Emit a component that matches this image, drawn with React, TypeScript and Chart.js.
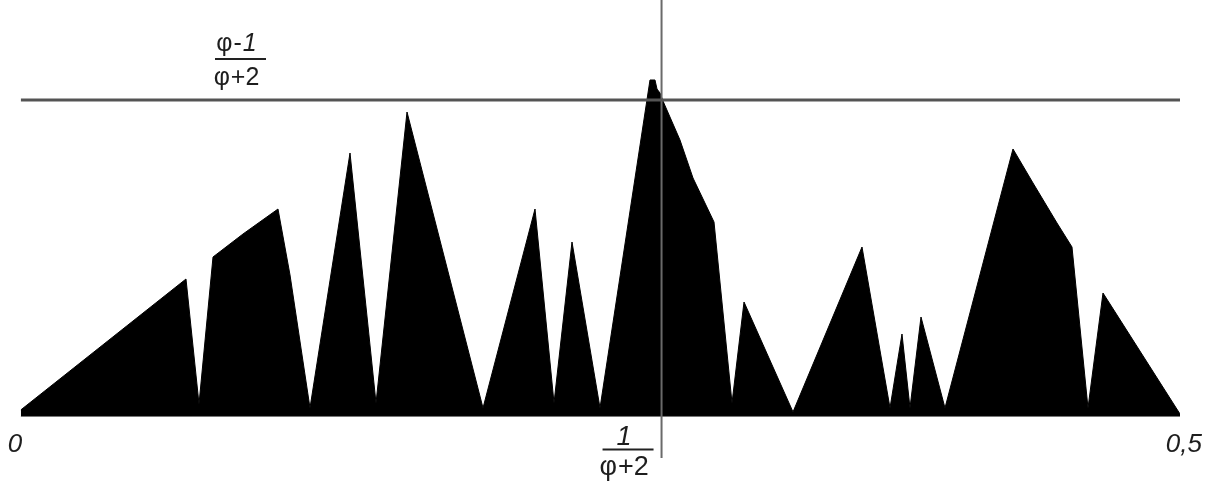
import React, { useEffect, useRef } from "react";
import { Chart, registerables } from "chart.js";

Chart.register(...registerables);

// Golden ratio based reference levels
const PHI = (1 + Math.sqrt(5)) / 2;
const H_LEVEL = (PHI - 1) / (PHI + 2); // horizontal reference line
const V_POS = 1 / (PHI + 2); // vertical reference line

// Axis ranges
const X_MIN = 0;
const X_MAX = 0.5;
const Y_MIN = -0.0386;
const Y_MAX = 0.2248;
const V_LINE_BOTTOM = -0.0224;

// Tick labels
const X_TICK_LABELS = ["0", "0,5"];

// Profile (black filled area) vertices
const PROFILE_X = [
  0, 0.07129, 0.0769, 0.08294, 0.09588, 0.11097, 0.11615, 0.12477, 0.14203,
  0.15324, 0.16661, 0.19939, 0.22182, 0.23001, 0.23777, 0.24985, 0.27141,
  0.27357, 0.27443, 0.27573, 0.27702, 0.28435, 0.28996, 0.29902, 0.30678,
  0.31196, 0.33309, 0.36285, 0.37493, 0.3801, 0.38355, 0.38829, 0.39864,
  0.42797, 0.4366, 0.44695, 0.45342, 0.46032, 0.46679, 0.5,
];
const PROFILE_Y = [
  0.0035, 0.07421, 0.00675, 0.08609, 0.0985, 0.11199, 0.07637, 0.00459,
  0.14222, 0.00729, 0.16434, 0.00459, 0.11199, 0.00729, 0.09418, 0.00459,
  0.18162, 0.18162, 0.17676, 0.1746, 0.17028, 0.14923, 0.12872, 0.10498,
  0.00729, 0.0618, 0.00243, 0.09148, 0.00459, 0.04453, 0.00459, 0.0537,
  0.00459, 0.14438, 0.12602, 0.10444, 0.09148, 0.00459, 0.06666, 0.00135,
];

type Part = [string, boolean];

function drawParts(
  ctx: CanvasRenderingContext2D,
  parts: Part[],
  left: number,
  baseline: number,
  size: number
) {
  let x = left;
  for (const [t, italic] of parts) {
    ctx.font = `${italic ? "italic " : ""}${size}px "Liberation Sans", Arial, sans-serif`;
    ctx.fillText(t, x, baseline);
    x += ctx.measureText(t).width + 1;
  }
}

function partsWidth(ctx: CanvasRenderingContext2D, parts: Part[], size: number) {
  let w = 0;
  for (const [t, italic] of parts) {
    ctx.font = `${italic ? "italic " : ""}${size}px "Liberation Sans", Arial, sans-serif`;
    w += ctx.measureText(t).width + 1;
  }
  return w - 1;
}

function drawFraction(
  ctx: CanvasRenderingContext2D,
  cx: number,
  barY: number,
  barW: number,
  num: Part[],
  den: Part[],
  size: number,
  numGap: number,
  denGap: number
) {
  ctx.textAlign = "left";
  ctx.textBaseline = "alphabetic";
  const nw = partsWidth(ctx, num, size);
  const dw = partsWidth(ctx, den, size);
  drawParts(ctx, num, cx - 4 - nw / 2, barY - numGap, size);
  drawParts(ctx, den, cx - 4 - dw / 2, barY + denGap, size);
  ctx.strokeStyle = "#222";
  ctx.lineWidth = 2;
  ctx.beginPath();
  ctx.moveTo(cx - barW / 2, barY);
  ctx.lineTo(cx + barW / 2, barY);
  ctx.stroke();
}

const labelPlugin = {
  id: "labels",
  afterDatasetsDraw(chart: any) {
    const ctx: CanvasRenderingContext2D = chart.ctx;
    const xs = chart.scales.x;
    const ys = chart.scales.y;
    const x0 = xs.getPixelForValue(X_MIN);
    const x5 = xs.getPixelForValue(X_MAX);
    const yb = ys.getPixelForValue(0);
    const yh = ys.getPixelForValue(H_LEVEL);
    const xv = xs.getPixelForValue(V_POS);
    ctx.save();
    ctx.fillStyle = "#1e1e1e";
    ctx.textBaseline = "alphabetic";
    ctx.font = 'italic 26px "Liberation Sans", Arial, sans-serif';
    ctx.textAlign = "left";
    ctx.fillText(X_TICK_LABELS[0], x0 - 13, yb + 36);
    ctx.textAlign = "right";
    ctx.fillText(X_TICK_LABELS[1], x5 + 22, yb + 36);

    // top fraction (phi-1)/(phi+2)
    drawFraction(
      ctx,
      240.5,
      yh - 41,
      51,
      [["φ", false], ["-", false], ["1", true]],
      [["φ", false], ["+2", false]],
      25,
      8,
      26
    );
    // bottom fraction 1/(phi+2)
    drawFraction(
      ctx,
      xv - 33.5,
      yb + 33,
      51,
      [["1", true]],
      [["φ", false], ["+2", false]],
      27,
      4,
      26
    );
    ctx.restore();
  },
};

export default function App() {
  const ref = useRef<HTMLCanvasElement | null>(null);
  useEffect(() => {
    if (!ref.current) return;
    const profile = PROFILE_X.map((x, i) => ({ x, y: PROFILE_Y[i] }));
    const chart = new Chart(ref.current, {
      type: "line",
      data: {
        datasets: [
          {
            label: "h",
            data: [
              { x: X_MIN, y: H_LEVEL },
              { x: X_MAX, y: H_LEVEL },
            ],
            borderColor: "#545454",
            borderWidth: 3,
            pointRadius: 0,
            fill: false,
            order: 0,
          },
          {
            label: "v",
            data: [
              { x: V_POS, y: V_LINE_BOTTOM },
              { x: V_POS, y: Y_MAX },
            ],
            borderColor: "#6a6a6a",
            borderWidth: 2,
            pointRadius: 0,
            fill: false,
            order: 0,
          },
          {
            label: "base",
            data: [
              { x: X_MIN, y: 0 },
              { x: X_MAX, y: 0 },
            ],
            borderColor: "#777",
            borderWidth: 1,
            pointRadius: 0,
            fill: false,
            order: 1,
          },
          {
            label: "profile",
            data: profile,
            borderColor: "#000",
            backgroundColor: "#000",
            borderWidth: 1,
            pointRadius: 0,
            tension: 0,
            fill: "origin",
            order: 5,
          },
        ],
      },
      options: {
        animation: false,
        responsive: false,
        devicePixelRatio: 1,
        layout: { padding: { left: 20.7, right: 40, top: 0, bottom: 0 } },
        scales: {
          x: { type: "linear", min: X_MIN, max: X_MAX, display: false },
          y: { type: "linear", min: Y_MIN, max: Y_MAX, display: false },
        },
        plugins: {
          legend: { display: false },
          tooltip: { enabled: false },
        },
        elements: { line: { borderJoinStyle: "miter" } },
      },
      plugins: [labelPlugin],
    });
    return () => chart.destroy();
  }, []);
  return (
    <div
      style={{
        position: "fixed",
        left: 0,
        top: 0,
        width: 1220,
        height: 488,
        background: "#fff",
      }}
    >
      <canvas ref={ref} width={1220} height={488} />
    </div>
  );
}
